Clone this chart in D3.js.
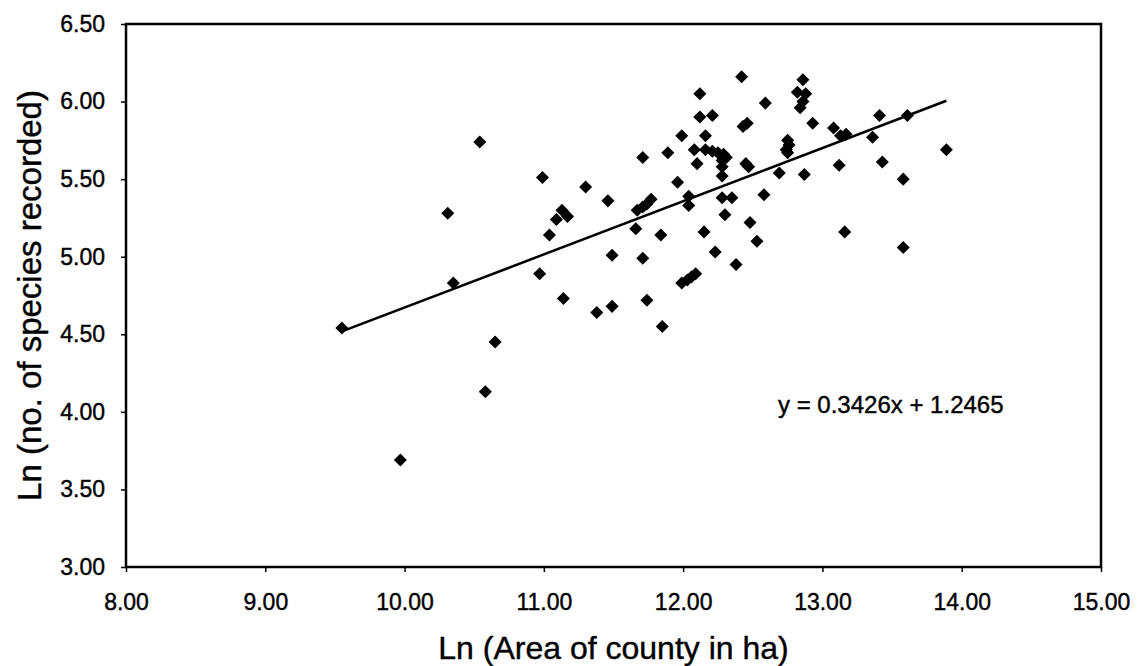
<!doctype html>
<html lang="en">
<head>
  <meta charset="utf-8">
  <title>Species vs county area</title>
  <style>
    body { margin: 0; background: #fff; }
    text { font-family: "Liberation Sans", Arial, sans-serif; fill: #000; stroke: #000; stroke-width: 0.4px; }
  </style>
</head>
<body>
<svg id="mysvg"></svg>
<script src="https://d3js.org/d3.v7.min.js"></script>
<script>
// ln(area of county, ha)
var lnArea = [9.55, 9.97, 10.31, 10.35, 10.54, 10.58, 10.65, 10.97, 10.99, 11.04,
  11.09, 11.13, 11.17, 11.14, 11.30, 11.38, 11.46, 11.49, 11.49, 11.66,
  11.67, 11.71, 11.74, 11.77, 11.71, 11.71, 11.74, 11.84, 11.85, 11.89,
  11.96, 11.99, 11.99, 12.03, 12.06, 12.09, 12.04, 12.04, 12.08, 12.10,
  12.12, 12.12, 12.15, 12.16, 12.16, 12.21, 12.21, 12.23, 12.25, 12.29,
  12.31, 12.28, 12.28, 12.28, 12.28, 12.30, 12.35, 12.38, 12.42, 12.43,
  12.46, 12.45, 12.47, 12.48, 12.53, 12.58, 12.59, 12.69, 12.75, 12.76,
  12.74, 12.75, 12.82, 12.86, 12.88, 12.86, 12.84, 12.87, 12.93, 13.08,
  13.12, 13.13, 13.17, 13.16, 13.36, 13.41, 13.43, 13.58, 13.58, 13.61,
  13.89];
// ln(no. of species recorded)
var lnSpecies = [4.54, 3.69, 5.28, 4.83, 5.74, 4.13, 4.45, 4.89, 5.51, 5.14,
  5.24, 5.30, 5.26, 4.73, 5.45, 4.64, 5.36, 5.01, 4.68, 5.18,
  5.30, 5.32, 5.34, 5.37, 5.64, 4.99, 4.72, 5.14, 4.55, 5.67,
  5.48, 5.78, 4.83, 4.85, 4.87, 4.89, 5.39, 5.33, 5.69, 5.60,
  6.05, 5.90, 5.16, 5.78, 5.69, 5.91, 5.68, 5.03, 5.67, 5.66,
  5.64, 5.62, 5.58, 5.52, 5.38, 5.27, 5.38, 4.95, 6.16, 5.84,
  5.86, 5.60, 5.58, 5.22, 5.10, 5.40, 5.99, 5.54, 5.75, 5.72,
  5.69, 5.67, 6.06, 6.14, 6.05, 6.00, 5.96, 5.53, 5.86, 5.83,
  5.59, 5.78, 5.79, 5.16, 5.77, 5.91, 5.61, 5.50, 5.06, 5.91,
  5.69];

var xTicks = [8, 9, 10, 11, 12, 13, 14, 15];
var yTicks = [3, 3.5, 4, 4.5, 5, 5.5, 6, 6.5];

// trendline as printed on the chart
var slope = 0.3426;
var intercept = 1.2465;
var equationLabel = "y = 0.3426x + 1.2465";

var xTitle = "Ln (Area of county in ha)";
var yTitle = "Ln (no. of species recorded)";

var width = 1137;
var height = 666;
var margin = {top: 24, right: 36, bottom: 99, left: 126};

var svg = d3.select("#mysvg")
  .attr("width", width)
  .attr("height", height);

var x = d3.scaleLinear()
  .domain([8, 15])
  .range([margin.left, width - margin.right]);

var y = d3.scaleLinear()
  .domain([3, 6.5])
  .range([height - margin.bottom, margin.top]);

var fmt = d3.format(".2f");

// axes
var xAxis = svg.append("g")
  .attr("transform", "translate(0," + (height - margin.bottom) + ")")
  .call(d3.axisBottom(x).tickValues(xTicks).tickFormat(fmt).tickSize(5).tickPadding(22));

var yAxis = svg.append("g")
  .attr("transform", "translate(" + margin.left + ",0)")
  .call(d3.axisLeft(y).tickValues(yTicks).tickFormat(fmt).tickSize(5).tickPadding(16));

[xAxis, yAxis].forEach(function(g) {
  g.select(".domain").remove();
  g.selectAll(".tick line").attr("stroke", "#000").attr("stroke-width", 1.5);
  g.selectAll(".tick text")
    .style("font-size", "23px")
    .style("font-family", "'Liberation Sans', Arial, sans-serif");
});

// plot area frame
svg.append("rect")
  .attr("x", x(8))
  .attr("y", y(6.5))
  .attr("width", x(15) - x(8))
  .attr("height", y(3) - y(6.5))
  .attr("fill", "none")
  .attr("stroke", "#000")
  .attr("stroke-width", 2.5);

// trendline over the data range
var xr = d3.extent(lnArea);
var line = d3.line()
  .x(function(d) { return x(d); })
  .y(function(d) { return y(slope * d + intercept); });
svg.append("path")
  .datum(xr)
  .attr("d", line)
  .attr("fill", "none")
  .attr("stroke", "#000")
  .attr("stroke-width", 2.5);

// diamond markers (square turned 45 degrees)
var diamond = d3.symbol().type(d3.symbolSquare).size(85);
svg.selectAll("path.pt")
  .data(d3.range(lnArea.length))
  .enter()
  .append("path")
  .attr("class", "pt")
  .attr("d", diamond)
  .attr("transform", function(i) {
    return "translate(" + x(lnArea[i]) + "," + y(lnSpecies[i]) + ") rotate(45)";
  })
  .attr("fill", "#000");

svg.append("text")
  .attr("x", 778)
  .attr("y", 413)
  .style("font-size", "24px")
  .text(equationLabel);

svg.append("text")
  .attr("x", (x(8) + x(15)) / 2)
  .attr("y", 659)
  .attr("text-anchor", "middle")
  .style("font-size", "32px")
  .text(xTitle);

svg.append("text")
  .attr("transform", "translate(41," + ((y(3) + y(6.5)) / 2) + ") rotate(-90)")
  .attr("text-anchor", "middle")
  .style("font-size", "33px")
  .text(yTitle);
</script>
</body>
</html>
